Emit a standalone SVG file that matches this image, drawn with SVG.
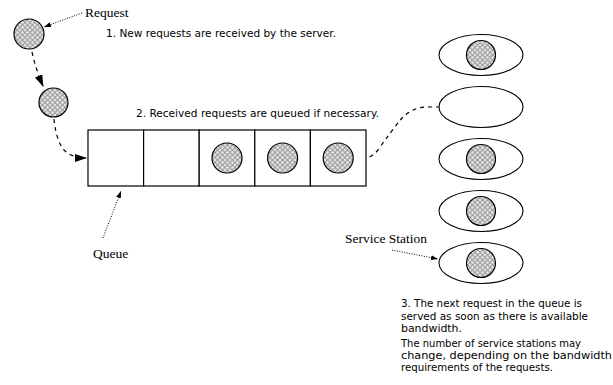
<svg xmlns="http://www.w3.org/2000/svg" width="613" height="385" viewBox="0 0 613 385">
<style>
.sans{font-family:"DejaVu Sans","Liberation Sans",sans-serif;font-size:10.8px;fill:#000}
.serif{font-family:"Liberation Serif","DejaVu Serif",serif;font-size:13.5px;fill:#000}
.ball{fill:url(#hatch);stroke:#000;stroke-width:1.2}
.cell{fill:#fff;stroke:#000;stroke-width:1.2}
.station{fill:#fff;stroke:#000;stroke-width:1.1}
.dash{fill:none;stroke:#000;stroke-width:1.2;stroke-dasharray:4,4}
.dot{fill:none;stroke:#000;stroke-width:1;stroke-dasharray:1,1.5}
</style>
<defs>
<pattern id="hatch" width="5" height="5" patternUnits="userSpaceOnUse">
<rect width="5" height="5" fill="#e0e0e0"/>
<circle cx="2.5" cy="2.5" r="2" fill="none" stroke="#666" stroke-width="0.6"/>
</pattern>
<marker id="big" markerWidth="12" markerHeight="8" refX="11" refY="4" orient="auto" markerUnits="userSpaceOnUse">
<path d="M0,0 L12,4 L0,8 Z" fill="#000"/>
</marker>
<marker id="small" markerWidth="7" markerHeight="5" refX="7" refY="2.5" orient="auto" markerUnits="userSpaceOnUse">
<path d="M0,0 L7,2.5 L0,5 Z" fill="#000"/>
</marker>
</defs>

<g id="connectors">
<path class="dash" d="M32,52 Q36,70 43,86" marker-end="url(#big)"/>
<path class="dash" d="M54,119 Q56,140 64,150 Q72,158 86,158" marker-end="url(#big)"/>
<path class="dash" d="M354,158 Q368,162 378,150 Q392,130 402,118 Q414,106 430,107 L455,107" marker-end="url(#big)"/>
<path class="dot" d="M82,13 L44,27" marker-end="url(#small)"/>
<path class="dot" d="M103,238 L121,191" marker-end="url(#small)"/>
<path class="dot" d="M392,250 L438,259" marker-end="url(#small)"/>
</g>

<g id="request1"><circle class="ball" cx="29" cy="34" r="15"/></g>
<g id="request2"><circle class="ball" cx="53.5" cy="102.5" r="14.5"/></g>

<g id="queue">
<rect class="cell" x="88" y="130" width="55.6" height="56"/>
<rect class="cell" x="143.6" y="130" width="55.6" height="56"/>
<rect class="cell" x="199.2" y="130" width="55.6" height="56"/>
<rect class="cell" x="254.8" y="130" width="55.6" height="56"/>
<rect class="cell" x="310.4" y="130" width="55.6" height="56"/>
<circle class="ball" cx="227" cy="158" r="15"/>
<circle class="ball" cx="282.6" cy="158" r="15"/>
<circle class="ball" cx="338.2" cy="158" r="15"/>
</g>

<g id="station1"><ellipse class="station" cx="481" cy="55" rx="42" ry="20.5"/><circle class="ball" cx="481" cy="55" r="14.5"/></g>
<g id="station2"><ellipse class="station" cx="481" cy="107" rx="42" ry="20.5"/></g>
<g id="station3"><ellipse class="station" cx="481" cy="159" rx="42" ry="20.5"/><circle class="ball" cx="481" cy="159" r="14.5"/></g>
<g id="station4"><ellipse class="station" cx="481" cy="211" rx="42" ry="20.5"/><circle class="ball" cx="481" cy="211" r="14.5"/></g>
<g id="station5"><ellipse class="station" cx="481" cy="263" rx="42" ry="20.5"/><circle class="ball" cx="481" cy="263" r="14.5"/></g>

<g id="labels">
<text class="serif" x="85" y="17">Request</text>
<text class="sans" x="106" y="37" textLength="230" lengthAdjust="spacingAndGlyphs">1. New requests are received by the server.</text>
<text class="sans" x="136" y="117" textLength="243" lengthAdjust="spacingAndGlyphs">2. Received requests are queued if necessary.</text>
<text class="serif" x="93" y="258">Queue</text>
<text class="serif" x="345" y="243">Service Station</text>
<text class="sans" x="401" y="307" textLength="181" lengthAdjust="spacingAndGlyphs">3. The next request in the queue is</text>
<text class="sans" x="401" y="320" textLength="187" lengthAdjust="spacingAndGlyphs">served as soon as there is available</text>
<text class="sans" x="401" y="332" textLength="61" lengthAdjust="spacingAndGlyphs">bandwidth.</text>
<text class="sans" x="401" y="347" textLength="180" lengthAdjust="spacingAndGlyphs">The number of service stations may</text>
<text class="sans" x="401" y="359" textLength="211" lengthAdjust="spacingAndGlyphs">change, depending on the bandwidth</text>
<text class="sans" x="401" y="371" textLength="152" lengthAdjust="spacingAndGlyphs">requirements of the requests.</text>
</g>
</svg>
